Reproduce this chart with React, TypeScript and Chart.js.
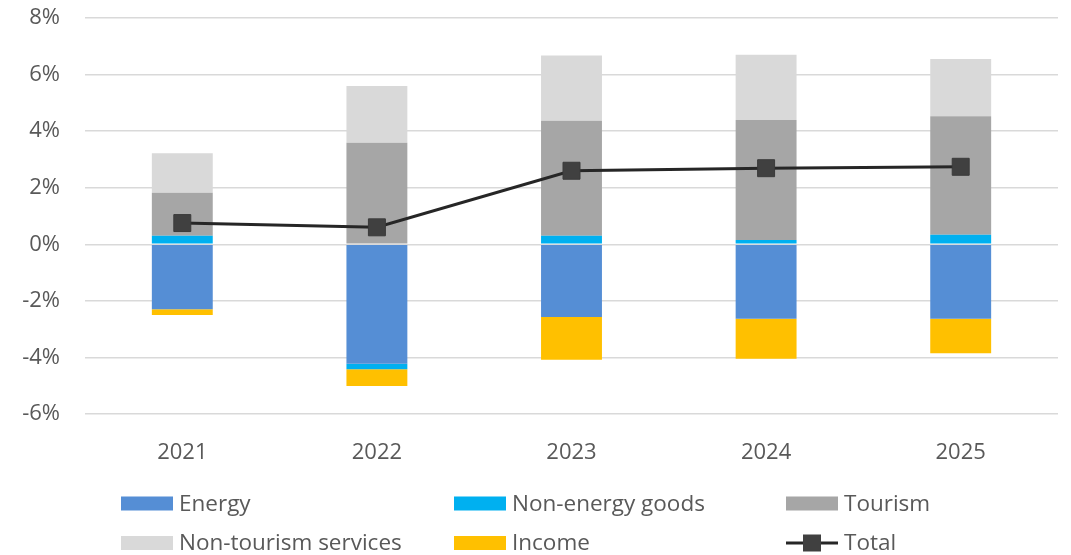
import { useEffect, useRef } from "react";
import { Chart, registerables } from "chart.js";

Chart.register(...registerables);

// Contributions by component, percentage points
const years = ["2021", "2022", "2023", "2024", "2025"];
const energy = [-2.3, -4.22, -2.57, -2.63, -2.63];
const nonEnergyGoods = [0.3, -0.2, 0.3, 0.15, 0.34];
const tourism = [1.52, 3.59, 4.07, 4.24, 4.19];
const nonTourismServices = [1.4, 2.01, 2.3, 2.31, 2.02];
const income = [-0.2, -0.59, -1.51, -1.42, -1.22];
const total = [0.75, 0.6, 2.6, 2.69, 2.74];

const yMin = -6;
const yMax = 8;
const yStep = 2;

const FONT = "'Open Sans', 'DejaVu Sans', sans-serif";
const TEXT = "#595959";

// Three-column legend drawn under the plot
const gridLegend = {
  id: "gridLegend",
  afterDraw(chart: any) {
    const ctx = chart.ctx as CanvasRenderingContext2D;
    const cols = [121, 454, 786];
    const rows = [503.5, 543];
    const boxW = 52;
    const boxH = 14;
    const datasets = chart.data.datasets;
    ctx.save();
    ctx.font = `22.5px ${FONT}`;
    ctx.textBaseline = "middle";
    ctx.textAlign = "left";
    datasets.forEach((ds: any, i: number) => {
      const x = cols[i % 3];
      const y = rows[Math.floor(i / 3)];
      if (ds.type === "line") {
        ctx.strokeStyle = ds.borderColor;
        ctx.lineWidth = 3;
        ctx.beginPath();
        ctx.moveTo(x, y);
        ctx.lineTo(x + boxW, y);
        ctx.stroke();
        ctx.fillStyle = ds.pointBackgroundColor;
        ctx.fillRect(x + boxW / 2 - 9, y - 8.5, 18, 17);
      } else {
        ctx.fillStyle = ds.backgroundColor;
        ctx.fillRect(x, y - boxH / 2, boxW, boxH);
      }
      ctx.fillStyle = TEXT;
      ctx.fillText(ds.label, x + boxW + 6, y + 1);
    });
    ctx.restore();
  },
};

export default function App() {
  const canvasRef = useRef<HTMLCanvasElement | null>(null);

  useEffect(() => {
    if (!canvasRef.current) return;
    const bar = (label: string, data: number[], color: string) => ({
      type: "bar" as const,
      label,
      data,
      backgroundColor: color,
      borderWidth: 0,
      barPercentage: 0.313,
      categoryPercentage: 1,
      order: 1,
    });
    const chart = new Chart(canvasRef.current, {
      type: "bar",
      data: {
        labels: years,
        datasets: [
          bar("Energy", energy, "#558ED5"),
          bar("Non-energy goods", nonEnergyGoods, "#00B0F0"),
          bar("Tourism", tourism, "#A6A6A6"),
          bar("Non-tourism services", nonTourismServices, "#D9D9D9"),
          bar("Income", income, "#FFC000"),
          {
            type: "line" as const,
            label: "Total",
            data: total,
            borderColor: "#262626",
            borderWidth: 3,
            pointStyle: "rect",
            pointRadius: 12,
            pointHoverRadius: 12,
            pointBackgroundColor: "#404040",
            pointBorderColor: "#3A3A3A",
            pointBorderWidth: 1,
            stack: "total",
            order: 0,
          } as any,
        ],
      },
      options: {
        animation: false,
        responsive: true,
        maintainAspectRatio: false,
        layout: { padding: { top: 18, right: 5, bottom: 91, left: 0 } },
        font: { family: FONT },
        plugins: {
          legend: { display: false },
          tooltip: { enabled: false },
        },
        scales: {
          x: {
            stacked: true,
            grid: { display: false },
            border: { display: false },
            ticks: {
              color: TEXT,
              font: { family: FONT, size: 22 },
              padding: 18,
            },
            afterFit: (s: any) => {
              s.height = 50;
            },
          },
          y: {
            stacked: true,
            min: yMin,
            max: yMax,
            grid: { color: "#D9D9D9", lineWidth: 1.5, drawTicks: false },
            border: { display: false },
            ticks: {
              stepSize: yStep,
              color: TEXT,
              font: { family: FONT, size: 22 },
              padding: 25,
              callback: (v: any) => `${v}%`,
            },
            afterFit: (s: any) => {
              s.width = 85;
              s.paddingTop = 0;
              s.paddingBottom = 0;
            },
          },
        },
      } as any,
      plugins: [gridLegend],
    });
    return () => chart.destroy();
  }, []);

  return (
    <div
      style={{
        position: "fixed",
        left: 0,
        top: 0,
        width: 1071,
        height: 555,
        background: "#ffffff",
      }}
    >
      <canvas ref={canvasRef} />
    </div>
  );
}
